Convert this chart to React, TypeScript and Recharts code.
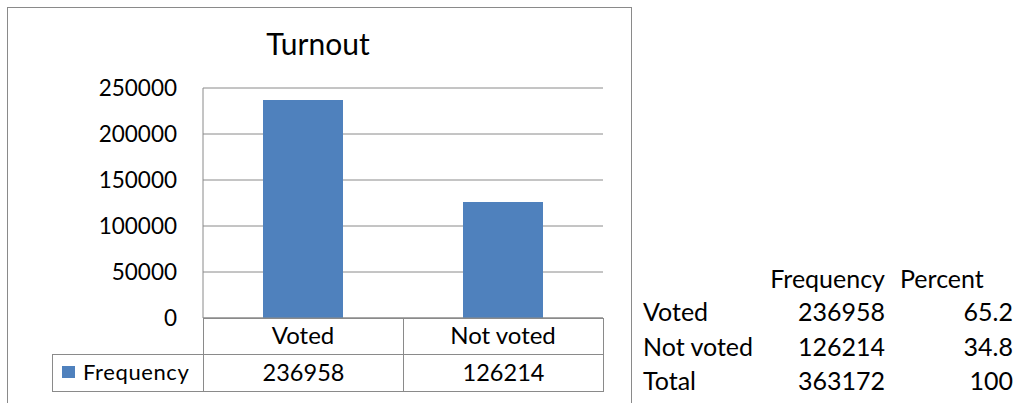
import { BarChart, Bar, XAxis, YAxis, CartesianGrid } from 'recharts';

const categories = ['Voted', 'Not voted'];
const frequency = [236958, 126214];
const percent = ['65.2', '34.8'];
const totalLabel = 'Total';
const totalFrequency = 363172;
const totalPercent = '100';
const yTicks = [0, 50000, 100000, 150000, 200000, 250000];
const seriesName = 'Frequency';
const headers = ['Frequency', 'Percent'];

const data = categories.map((name, i) => ({ name, value: frequency[i] }));

const FONT = 'Lato, "Open Sans", sans-serif';
const LINE = '#8a8a8a';
const BAR = '#4F81BD';

// plot area
const PLOT_LEFT = 203;
const PLOT_RIGHT = 603;
const PLOT_TOP = 88;
const PLOT_BOTTOM = 318;
const BAND = (PLOT_RIGHT - PLOT_LEFT) / categories.length;

const cell = (left: number, top: number, width: number, height: number) => ({
  position: 'absolute' as const,
  left,
  top,
  width,
  height,
  boxSizing: 'border-box' as const,
  border: `1px solid ${LINE}`,
  display: 'flex',
  alignItems: 'center',
  justifyContent: 'center',
  fontFamily: FONT,
  fontSize: 23.5,
  color: '#000',
  paddingBottom: 3,
});

const side = { position: 'absolute' as const, lineHeight: '34px', fontFamily: FONT, fontSize: 25, color: '#000', whiteSpace: 'nowrap' as const };

export default function App() {
  const rows = [
    ...categories.map((c, i) => ({ label: c, f: String(frequency[i]), p: percent[i] })),
    { label: totalLabel, f: String(totalFrequency), p: totalPercent },
  ];

  return (
    <div style={{ position: 'absolute', left: 0, top: 0, width: 1016, height: 403, background: '#fff', overflow: 'hidden' }}>
      {/* chart frame */}
      <div style={{ position: 'absolute', left: 7, top: 7, width: 625, height: 420, boxSizing: 'border-box', border: `1px solid ${LINE}` }} />

      <div style={{ position: 'absolute', left: 0, top: 26, width: 636, textAlign: 'center', fontFamily: FONT, fontSize: 30, lineHeight: '34px', color: '#000' }}>
        Turnout
      </div>

      {/* data table under the axis */}
      {categories.map((c, i) => (
        <div key={'c' + c} style={cell(PLOT_LEFT + i * BAND, PLOT_BOTTOM, BAND + 1, 37)} />
      ))}
      <div style={{ ...cell(52, 354, PLOT_LEFT - 52 + 1, 38), fontSize: 22, justifyContent: 'flex-start', letterSpacing: 0.6 }}>
        <span style={{ display: 'inline-block', width: 13, height: 12, background: BAR, marginLeft: 9, marginRight: 8 }} />
        {seriesName}
      </div>
      {frequency.map((v, i) => (
        <div key={'v' + i} style={cell(PLOT_LEFT + i * BAND, 354, BAND + 1, 38)}>
          {v}
        </div>
      ))}

      <div style={{ position: 'absolute', left: 0, top: 0 }}>
        <BarChart width={1016} height={403} data={data} margin={{ top: PLOT_TOP, right: 1016 - PLOT_RIGHT, bottom: 0, left: 8 }} barCategoryGap="30%">
          <CartesianGrid vertical={false} stroke={LINE} strokeDasharray="" />
          <XAxis
            dataKey="name"
            height={403 - PLOT_BOTTOM}
            tickLine={false}
            tickSize={0}
            tickMargin={9}
            axisLine={{ stroke: LINE }}
            tick={{ fill: '#000', fontSize: 24, fontFamily: FONT }}
            interval={0}
          />
          <YAxis
            width={PLOT_LEFT - 8}
            domain={[0, 250000]}
            ticks={yTicks}
            tickLine={false}
            tickSize={0}
            tickMargin={26}
            axisLine={{ stroke: LINE }}
            tick={{ fill: '#000', fontSize: 22.5, fontFamily: FONT }}
            interval={0}
          />
          <Bar dataKey="value" name={seriesName} fill={BAR} isAnimationActive={false} />
        </BarChart>
      </div>

      {/* frequency table on the right */}
      <div style={{ ...side, right: 1016 - 885, top: 261 }}>{headers[0]}</div>
      <div style={{ ...side, left: 900, top: 261 }}>{headers[1]}</div>
      {rows.map((r, i) => (
        <div key={r.label} style={{ position: 'absolute', left: 643, top: 294 + i * 34.5, width: 370, height: 34 }}>
          <span style={{ ...side, left: 0 }}>{r.label}</span>
          <span style={{ ...side, right: 370 - 242 }}>{r.f}</span>
          <span style={{ ...side, right: 0 }}>{r.p}</span>
        </div>
      ))}
    </div>
  );
}
